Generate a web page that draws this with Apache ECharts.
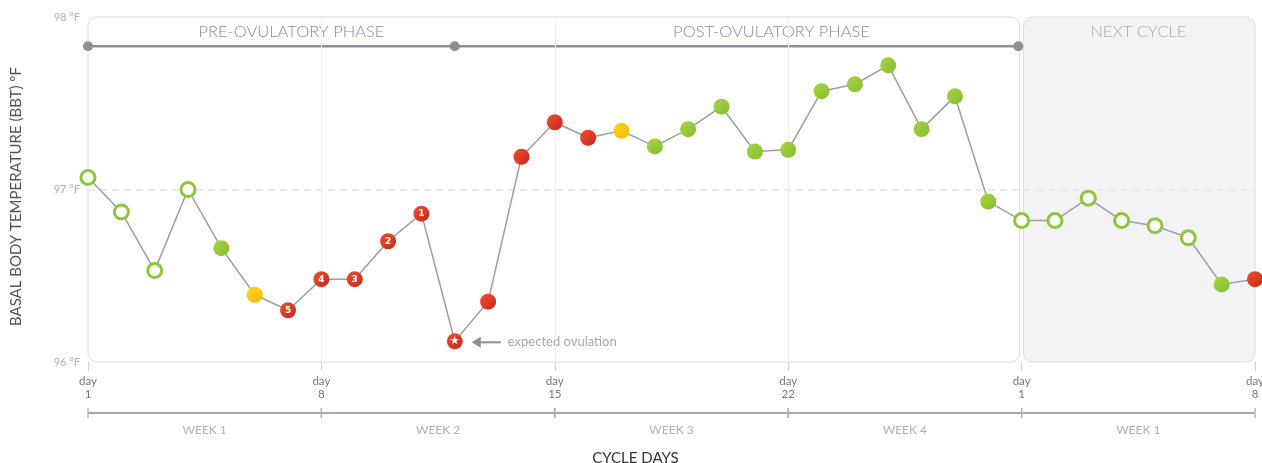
<!DOCTYPE html>
<html><head><meta charset="utf-8">
<script src="https://cdn.jsdelivr.net/npm/echarts@6/dist/echarts.min.js"></script>
<style>html,body{margin:0;padding:0;background:#fff;overflow:hidden}#c{width:1262px;height:463px}</style>
</head><body><div id="c"></div>
<script>
// ---- data ----
const days = Array.from({length: 36}, (_, i) => i); // day index from cycle day 1
const temps = [97.07, 96.87, 96.53, 97.00, 96.66, 96.39, 96.30, 96.48, 96.48, 96.70,
               96.86, 96.12, 96.35, 97.19, 97.39, 97.30, 97.34, 97.25, 97.35, 97.48,
               97.22, 97.23, 97.57, 97.61, 97.72, 97.35, 97.54, 96.93, 96.82, 96.82,
               96.95, 96.82, 96.79, 96.72, 96.45, 96.48];
const status = ['open','open','open','open','green','yellow','red','red','red','red',
                'red','ovulation','red','red','red','red','yellow','green','green','green',
                'green','green','green','green','green','green','green','green','open','open',
                'open','open','open','open','green','red'];
const pointLabels = ['','','','','','','5','4','3','2','1','★','','','','','','','','',
                     '','','','','','','','','','','','','','','',''];
const tickDays = ['1', '8', '15', '22', '1', '8'];
const weekNames = ['WEEK 1', 'WEEK 2', 'WEEK 3', 'WEEK 4', 'WEEK 1'];
const weekStart = [0, 7, 14, 21, 28];
const weekEnd = [7, 14, 21, 28, 35];
const phaseNames = ['PRE-OVULATORY PHASE', 'POST-OVULATORY PHASE', 'NEXT CYCLE'];
const phaseLabelDay = [6.1, 20.5, 31.5];
const phaseMarkers = [0, 11, 27.9];
const phaseLineTemp = 97.83;
const panelStart = [0, 28];
const panelEnd = [28, 35];
const ovulationDay = 11;

// ---- styles ----
const grad = (a, b) => new echarts.graphic.LinearGradient(0, 0, 1, 1, [{offset: 0, color: a}, {offset: 1, color: b}]);
const styleFor = {
  open:   {symbolSize: 14, itemStyle: {color: '#fff', borderColor: '#8cc63f', borderWidth: 3}},
  green:  {symbolSize: 16, itemStyle: {color: grad('#a9d444', '#84bd2f')}},
  yellow: {symbolSize: 16, itemStyle: {color: grad('#ffd628', '#f6b800')}},
  red:    {symbolSize: 16, itemStyle: {color: grad('#ee5133', '#c8251a')}},
  ovulation: {symbolSize: 16, itemStyle: {color: grad('#ee5133', '#c8251a')}}
};

const mainData = days.map((d, i) => {
  const s = styleFor[status[i]];
  return {
    value: [d, temps[i]],
    symbol: 'circle',
    symbolSize: s.symbolSize,
    itemStyle: s.itemStyle,
    label: {
      show: pointLabels[i] !== '',
      formatter: pointLabels[i],
      position: 'inside',
      color: '#fff',
      fontSize: status[i] === 'ovulation' ? 11 : 9,
      fontWeight: 'bold',
      fontFamily: 'DejaVu Sans'
    }
  };
});

const chart = echarts.init(document.getElementById('c'), null, {renderer: 'canvas', width: 1262, height: 463});
const FONT = 'Lato, "Open Sans", sans-serif';

chart.setOption({
  animation: false,
  backgroundColor: '#fff',
  grid: {left: 88, right: 7, top: 17, bottom: 101, containLabel: false, outerBoundsMode: 'none'},
  xAxis: {
    type: 'value', min: 0, max: 35, interval: 7,
    name: 'CYCLE DAYS', nameLocation: 'middle', nameGap: 89,
    nameTextStyle: {color: '#333', fontSize: 15, fontFamily: FONT, padding: [0, 72, 0, 0]},
    axisLine: {show: false},
    axisTick: {show: true, length: 9, lineStyle: {color: '#cfcfd6'}},
    splitLine: {show: false},
    axisLabel: {
      formatter: v => 'day\n' + tickDays[Math.round(v / 7)],
      color: '#777', fontSize: 11.5, lineHeight: 13, margin: 13, fontFamily: FONT
    }
  },
  yAxis: {
    type: 'value', min: 96, max: 98, interval: 1,
    name: 'BASAL BODY TEMPERATURE (BBT) °F', nameLocation: 'middle', nameGap: 64, nameRotate: 90,
    nameTextStyle: {color: '#555', fontSize: 15, fontFamily: FONT, padding: [0, 14, 0, 0]},
    axisLine: {show: false}, axisTick: {show: false}, splitLine: {show: false},
    axisLabel: {formatter: v => v + ' °F', color: '#b0b0b6', fontSize: 11, margin: 8, fontFamily: FONT}
  },
  series: [
    {
      type: 'custom', name: 'panels', z: 0, silent: true, clip: false,
      data: panelStart.map((s, i) => [s, panelEnd[i], i]),
      renderItem: (params, api) => {
        const i = api.value(2);
        const p0 = api.coord([api.value(0), 98]);
        const p1 = api.coord([api.value(1), 96]);
        const x0 = p0[0] + (i === 1 ? 2 : 0);
        const x1 = p1[0] - (i === 0 ? 2 : 0);
        return {
          type: 'rect',
          shape: {x: x0, y: p0[1], width: x1 - x0, height: p1[1] - p0[1], r: 9},
          style: {fill: i === 1 ? '#f3f3f6' : '#fff', stroke: '#dcdce3', lineWidth: 1}
        };
      }
    },
    {
      type: 'custom', name: 'phaseLabels', z: 3, silent: true, clip: false,
      data: phaseLabelDay.map((d, i) => [d, i]),
      renderItem: (params, api) => {
        const p = api.coord([api.value(0), 98]);
        const i = api.value(1);
        return {
          type: 'text',
          style: {x: p[0], y: p[1] + 15, text: phaseNames[i], fill: i === 2 ? '#aaaab0' : '#8a8a90',
                  font: '300 16.5px ' + FONT, textAlign: 'center', textVerticalAlign: 'middle'}
        };
      }
    },
    {
      type: 'line', name: 'phases', z: 3, silent: true,
      data: phaseMarkers.map(d => [d, phaseLineTemp]),
      symbol: 'circle', symbolSize: 10, showAllSymbol: true,
      lineStyle: {color: '#8e8e98', width: 2.5},
      itemStyle: {color: '#8e8e98'}
    },
    {
      type: 'custom', name: 'weeks', z: 3, silent: true, clip: false,
      data: weekStart.map((s, i) => [s, weekEnd[i], i]),
      renderItem: (params, api) => {
        const a = api.coord([api.value(0), 96]);
        const b = api.coord([api.value(1), 96]);
        const y = a[1] + 51;
        const i = api.value(2);
        const stroke = {stroke: '#a9a9b1', lineWidth: 2};
        return {
          type: 'group',
          children: [
            {type: 'line', shape: {x1: a[0], y1: y, x2: b[0], y2: y}, style: stroke},
            {type: 'line', shape: {x1: a[0], y1: y - 5, x2: a[0], y2: y + 5}, style: {stroke: '#a9a9b1', lineWidth: 1.2}},
            {type: 'line', shape: {x1: b[0], y1: y - 5, x2: b[0], y2: y + 5}, style: {stroke: '#a9a9b1', lineWidth: 1.2}},
            {type: 'text', style: {x: (a[0] + b[0]) / 2, y: y + 17, text: weekNames[i], fill: '#b0b0b6',
              font: '12px ' + FONT, textAlign: 'center', textVerticalAlign: 'middle'}}
          ]
        };
      }
    },
    {
      type: 'custom', name: 'annotation', z: 3, silent: true, clip: false,
      data: [[ovulationDay, temps[ovulationDay]]],
      renderItem: (params, api) => {
        const p = api.coord([api.value(0), api.value(1)]);
        const y = p[1] + 1;
        const x = p[0];
        return {
          type: 'group',
          children: [
            {type: 'line', shape: {x1: x + 22, y1: y, x2: x + 46, y2: y}, style: {stroke: '#8e8e98', lineWidth: 2}},
            {type: 'polygon', shape: {points: [[x + 17, y], [x + 26, y - 5.5], [x + 26, y + 5.5]]}, style: {fill: '#8e8e98'}},
            {type: 'text', style: {x: x + 53, y: y, text: 'expected ovulation', fill: '#a8a8ae',
              font: '13px ' + FONT, textAlign: 'left', textVerticalAlign: 'middle'}}
          ]
        };
      }
    },
    {
      type: 'line', name: 'BBT', z: 5,
      data: mainData,
      showAllSymbol: true,
      lineStyle: {color: '#9d9da6', width: 1.5},
      markLine: {
        silent: true, symbol: 'none', label: {show: false},
        data: [
          {yAxis: 97, lineStyle: {color: '#e3e3ea', type: [7, 5], width: 1.5}},
          {xAxis: 7, lineStyle: {color: '#ececf1', type: 'solid', width: 1}},
          {xAxis: 14, lineStyle: {color: '#ececf1', type: 'solid', width: 1}},
          {xAxis: 21, lineStyle: {color: '#ececf1', type: 'solid', width: 1}}
        ]
      }
    }
  ]
});
</script>
</body></html>
